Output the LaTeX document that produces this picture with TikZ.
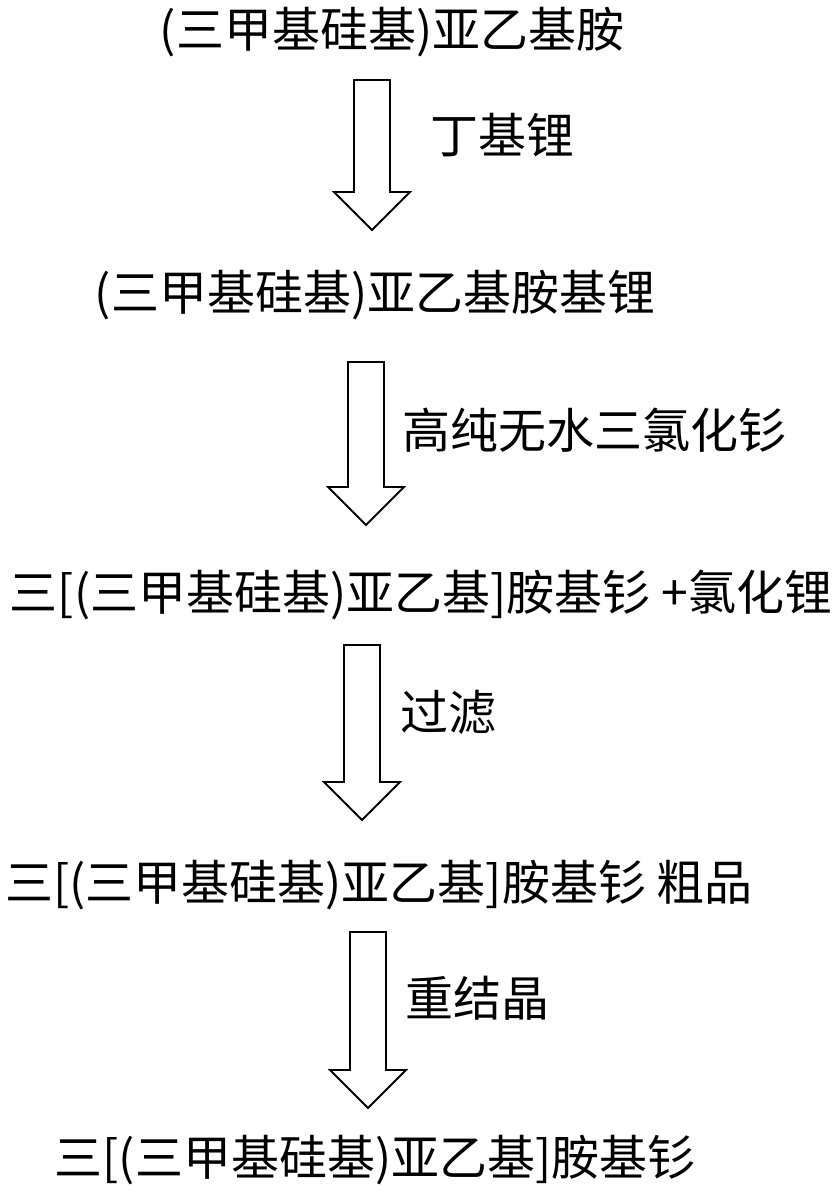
\documentclass[tikz,border=0pt]{standalone}
\usepackage{fontspec}
\setmainfont{Noto Sans CJK SC}
\begin{document}
\begin{tikzpicture}[x=1pt,y=-1pt,
  lab/.style={inner sep=0pt,font=\fontsize{48}{52}\selectfont},
  arr/.style={draw,line width=1.8pt,line join=miter}]
\newcommand\blkarrow[4]{% name, cx, top, bottom
  \coordinate (#1s) at (#2,#3);
  \coordinate (#1e) at (#2,#4);
  \draw[arr] ([xshift=-18pt]#1s) -- ([xshift=18pt]#1s) -- ([xshift=18pt,yshift=38pt]#1e)
    -- ([xshift=38pt,yshift=38pt]#1e) -- (#1e) -- ([xshift=-38pt,yshift=38pt]#1e)
    -- ([xshift=-18pt,yshift=38pt]#1e) -- cycle;}
\useasboundingbox (0,0) rectangle (839,1193);
\node[lab] (t1) at (392,32) {(三甲基硅基)亚乙基胺};
\node[lab] (t2) at (375,295) {(三甲基硅基)亚乙基胺基锂};
\node[lab] (t3) at (421,595) {三[(三甲基硅基)亚乙基]胺基钐 +氯化锂};
\node[lab] (t4) at (379,885) {三[(三甲基硅基)亚乙基]胺基钐 粗品};
\node[lab] (t5) at (375,1160) {三[(三甲基硅基)亚乙基]胺基钐};
\blkarrow{a1}{372}{80}{230}
\blkarrow{a2}{366}{362}{525}
\blkarrow{a3}{362}{645}{820}
\blkarrow{a4}{368}{932}{1108}
\node[lab,anchor=west] (l1) at (430,135) {丁基锂};
\node[lab,anchor=west] (l2) at (402,430) {高纯无水三氯化钐};
\node[lab,anchor=west] (l3) at (400,712) {过滤};
\node[lab,anchor=west] (l4) at (405,998) {重结晶};
\end{tikzpicture}
\end{document}
